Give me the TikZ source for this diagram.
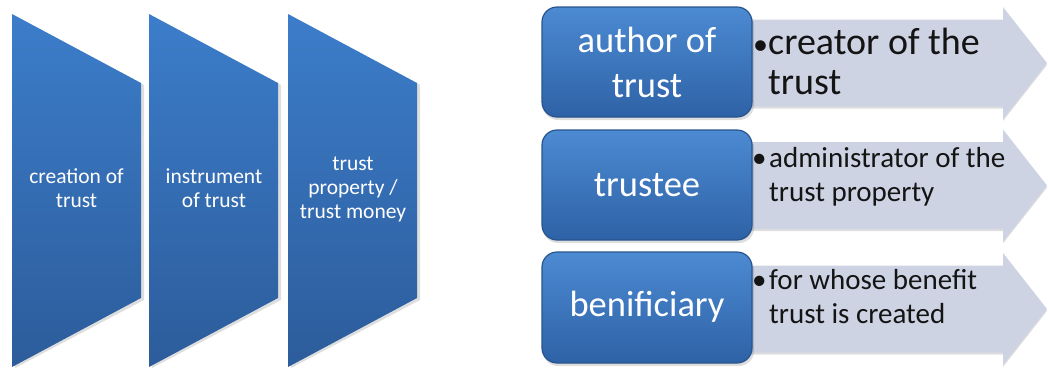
\documentclass[tikz,border=0pt]{standalone}
\usepackage{fontspec}
\setmainfont{Carlito}
\definecolor{chevtop}{RGB}{60,125,202}
\definecolor{chevbot}{RGB}{44,92,155}
\definecolor{tagtop}{RGB}{76,138,210}
\definecolor{tagbot}{RGB}{46,98,166}
\definecolor{tagedge}{RGB}{40,84,142}
\definecolor{bandfill}{RGB}{205,211,227}
\definecolor{notetext}{RGB}{20,20,20}
% bullet set in its own size inside a fixed-width slot
\newcommand{\notebullet}[2]{\makebox[#1][l]{\fontsize{#2}{#2}\selectfont •}}
\begin{document}
\begin{tikzpicture}[x=1pt,y=-1pt,
  chev/.style={top color=chevtop,bottom color=chevbot,draw=none},
  softshade/.style={fill=black,opacity=0.13,draw=none},
  chevtext/.style={text=white,align=center,inner sep=0pt,
    font=\fontsize{21.5}{24}\selectfont},
  tag/.style={draw=tagedge,line width=1.2pt,rounded corners=15pt,
    top color=tagtop,bottom color=tagbot},
  tagtext/.style={text=white,align=center,inner sep=0pt,
    font=\fontsize{36.5}{45}\selectfont},
  band/.style={fill=bandfill,draw=none},
  note/.style={text=notetext,anchor=west,inner sep=0pt}
]
\useasboundingbox (0,0) rectangle (1048,368);

% ---- three stages on the left ----
\foreach \l/\r in {12/141,149/278,288/417}{
  \fill[softshade] (\l+3,16) -- (\r+3,85) -- (\r+3,300) -- (\l+3,368) -- cycle;
  \shade[chev] (\l,14) -- (\r,83) -- (\r,298) -- (\l,367) -- cycle;
}
\node[chevtext] (creation) at (76.5,188) {creation of\\trust};
\node[chevtext] (instrument) at (214,188) {instrument\\of trust};
\node[chevtext] (property) at (353,189) {trust\\property /\\trust money};

% ---- description bands (arrows) ----
\foreach \c in {63,185.5,309}{
  \fill[softshade] (700,\c-43.5+2) -- (1003,\c-43.5+2) -- (1003,\c-56+2)
    -- (1047,\c+2) -- (1003,\c+56+2) -- (1003,\c+43.5+2) -- (700,\c+43.5+2) -- cycle;
  \fill[band] (700,\c-43.5) -- (1003,\c-43.5) -- (1003,\c-56)
    -- (1047,\c) -- (1003,\c+56) -- (1003,\c+43.5) -- (700,\c+43.5) -- cycle;
}

% ---- role boxes ----
\foreach \t/\b in {7/117,130/240,252/363}{
  \fill[softshade,rounded corners=15pt] (543,\t+3) rectangle (754,\b+3);
  \shade[tag] (542,\t) rectangle (752,\b);
}
\node[tagtext] (author) at (647,62) {author of\\trust};
\node[tagtext] (trustee) at (647,185) {trustee};
\node[tagtext] (beneficiary) at (647,307) {benificiary};

% ---- descriptions ----
\node[note,font=\fontsize{38}{40}\selectfont] (authornote) at (753,66)
  {\begin{tabular}{@{}l@{}l@{}}\notebullet{15pt}{30}&creator of the\\&trust\end{tabular}};
\node[note,font=\fontsize{29}{34}\selectfont] (trusteenote) at (752,177.5)
  {\begin{tabular}{@{}l@{}l@{}}\notebullet{17pt}{29}&administrator of the\\&trust property\end{tabular}};
\node[note,font=\fontsize{29}{34}\selectfont] (beneficiarynote) at (752,300)
  {\begin{tabular}{@{}l@{}l@{}}\notebullet{17pt}{29}&for whose benefit\\&trust is created\end{tabular}};
\end{tikzpicture}
\end{document}
